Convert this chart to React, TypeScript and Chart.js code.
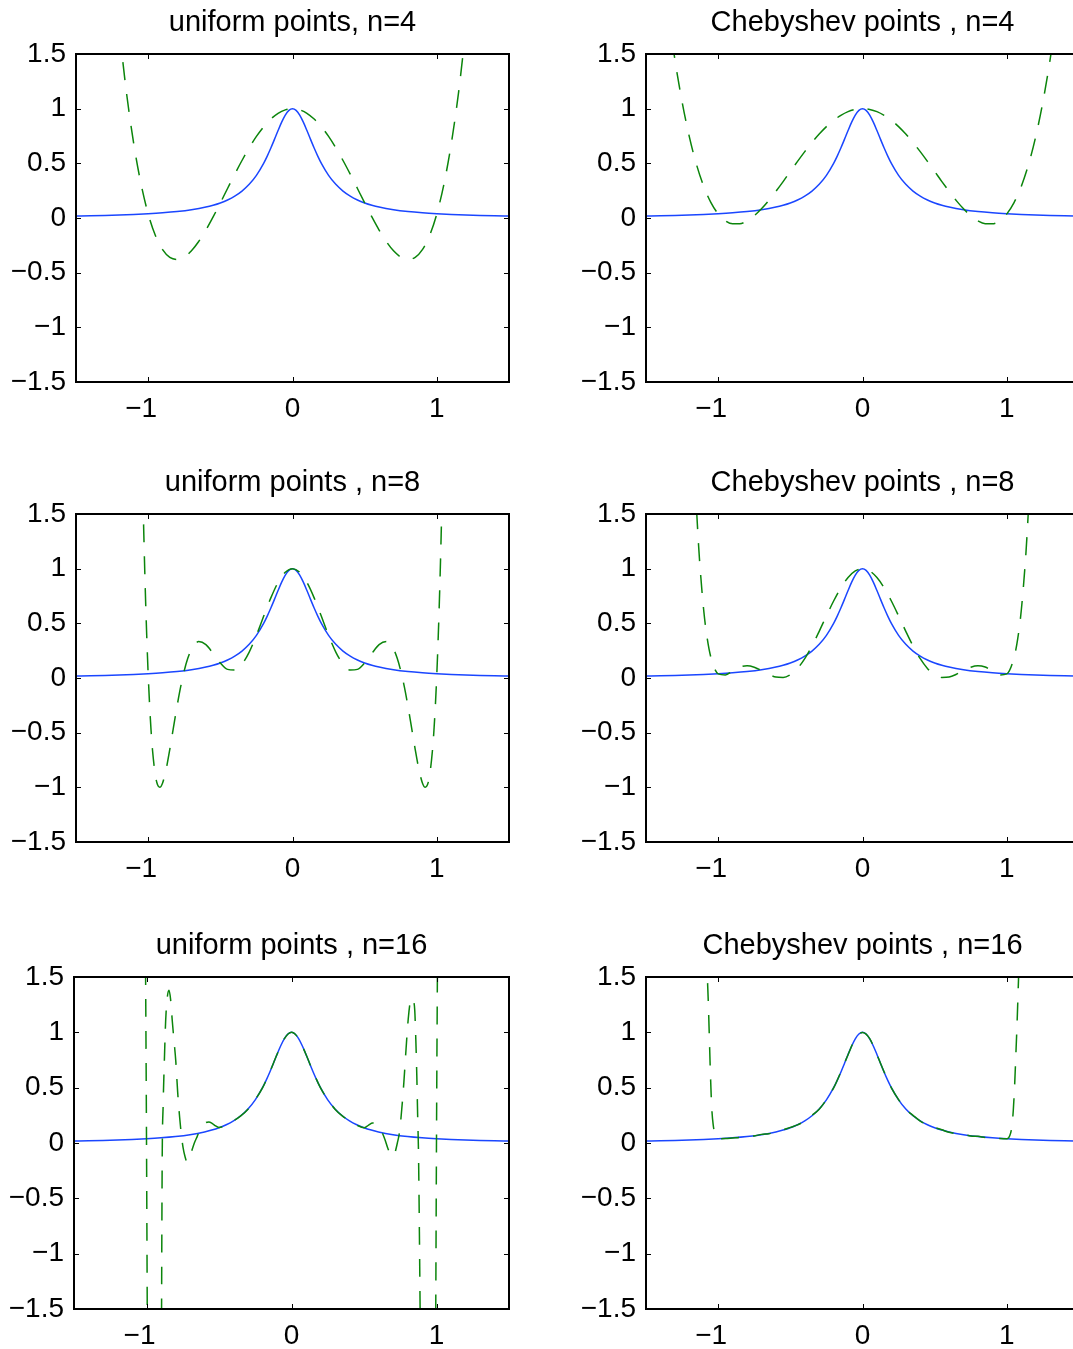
import React, { useEffect, useRef } from "react";
import { Chart, registerables } from "chart.js";

Chart.register(...registerables);

const FONT = '"Liberation Sans", Helvetica, Arial, sans-serif';

const X_TICKS = [-1, 0, 1];
const Y_TICKS = [-1.5, -1, -0.5, 0, 0.5, 1, 1.5];

// Solid blue curve (same in all six panels)
const RUNGE_X = [-1.5, -1.4, -1.3, -1.2, -1.1, -1.0, -0.9, -0.8, -0.7, -0.6, -0.55, -0.5, -0.45, -0.4, -0.35, -0.3, -0.25, -0.2, -0.175, -0.15, -0.125, -0.1, -0.075, -0.05, -0.025, 0, 0.025, 0.05, 0.075, 0.1, 0.125, 0.15, 0.175, 0.2, 0.25, 0.3, 0.35, 0.4, 0.45, 0.5, 0.55, 0.6, 0.7, 0.8, 0.9, 1.0, 1.1, 1.2, 1.3, 1.4, 1.5];
const RUNGE_Y = [0.0175, 0.02, 0.0231, 0.027, 0.032, 0.0385, 0.0471, 0.0588, 0.0755, 0.1, 0.1168, 0.1379, 0.1649, 0.2, 0.2462, 0.3077, 0.3902, 0.5, 0.5664, 0.64, 0.7191, 0.8, 0.8767, 0.9412, 0.9846, 1, 0.9846, 0.9412, 0.8767, 0.8, 0.7191, 0.64, 0.5664, 0.5, 0.3902, 0.3077, 0.2462, 0.2, 0.1649, 0.1379, 0.1168, 0.1, 0.0755, 0.0588, 0.0471, 0.0385, 0.032, 0.027, 0.0231, 0.02, 0.0175];

// Dashed green curves
const UNI4_X = [-1.2, -1.15, -1.1, -1.05, -1.0, -0.95, -0.9, -0.85, -0.8, -0.75, -0.7, -0.65, -0.6, -0.55, -0.5, -0.45, -0.4, -0.35, -0.3, -0.25, -0.2, -0.15, -0.1, -0.05, 0, 0.05, 0.1, 0.15, 0.2, 0.25, 0.3, 0.35, 0.4, 0.45, 0.5, 0.55, 0.6, 0.65, 0.7, 0.75, 0.8, 0.85, 0.9, 0.95, 1.0, 1.05, 1.1, 1.15, 1.2];
const UNI4_Y = [1.716, 1.143, 0.679, 0.315, 0.038, -0.16, -0.289, -0.36, -0.379, -0.357, -0.3, -0.215, -0.11, 0.01, 0.138, 0.27, 0.401, 0.526, 0.642, 0.746, 0.834, 0.905, 0.958, 0.989, 1, 0.989, 0.958, 0.905, 0.834, 0.746, 0.642, 0.526, 0.401, 0.27, 0.138, 0.01, -0.11, -0.215, -0.3, -0.357, -0.379, -0.36, -0.289, -0.16, 0.038, 0.315, 0.679, 1.143, 1.716];

const CHEB4_X = [-1.35, -1.3, -1.25, -1.2, -1.15, -1.1, -1.05, -1.0, -0.95, -0.9, -0.85, -0.8, -0.75, -0.7, -0.65, -0.6, -0.55, -0.5, -0.45, -0.4, -0.35, -0.3, -0.25, -0.2, -0.15, -0.1, -0.05, 0, 0.05, 0.1, 0.15, 0.2, 0.25, 0.3, 0.35, 0.4, 0.45, 0.5, 0.55, 0.6, 0.65, 0.7, 0.75, 0.8, 0.85, 0.9, 0.95, 1.0, 1.05, 1.1, 1.15, 1.2, 1.25, 1.3, 1.35];
const CHEB4_Y = [1.917, 1.451, 1.063, 0.744, 0.488, 0.289, 0.141, 0.038, -0.025, -0.053, -0.052, -0.026, 0.021, 0.084, 0.159, 0.244, 0.333, 0.426, 0.518, 0.607, 0.691, 0.768, 0.836, 0.893, 0.939, 0.973, 0.993, 1, 0.993, 0.973, 0.939, 0.893, 0.836, 0.768, 0.691, 0.607, 0.518, 0.426, 0.333, 0.244, 0.159, 0.084, 0.021, -0.026, -0.052, -0.053, -0.025, 0.038, 0.141, 0.289, 0.488, 0.744, 1.063, 1.451, 1.917];

const UNI8_X = [-1.05, -1.04, -1.03, -1.02, -1.01, -1.0, -0.99, -0.98, -0.97, -0.95, -0.935, -0.92, -0.9, -0.875, -0.85, -0.825, -0.8, -0.775, -0.75, -0.725, -0.7, -0.65, -0.6, -0.55, -0.5, -0.45, -0.4, -0.35, -0.3, -0.25, -0.2, -0.15, -0.1, -0.05, 0, 0.05, 0.1, 0.15, 0.2, 0.25, 0.3, 0.35, 0.4, 0.45, 0.5, 0.55, 0.6, 0.65, 0.7, 0.725, 0.75, 0.775, 0.8, 0.825, 0.85, 0.875, 0.9, 0.92, 0.935, 0.95, 0.97, 0.98, 0.99, 1.0, 1.01, 1.02, 1.03, 1.04, 1.05];
const UNI8_Y = [2.578, 1.894, 1.308, 0.809, 0.388, 0.038, -0.248, -0.478, -0.658, -0.892, -0.976, -1.0, -0.96, -0.831, -0.652, -0.454, -0.259, -0.082, 0.066, 0.182, 0.264, 0.333, 0.305, 0.225, 0.138, 0.079, 0.073, 0.127, 0.237, 0.39, 0.564, 0.733, 0.874, 0.967, 1, 0.967, 0.874, 0.733, 0.564, 0.39, 0.237, 0.127, 0.073, 0.079, 0.138, 0.225, 0.305, 0.333, 0.264, 0.182, 0.066, -0.082, -0.259, -0.454, -0.652, -0.831, -0.96, -1.0, -0.976, -0.892, -0.658, -0.478, -0.248, 0.038, 0.388, 0.809, 1.308, 1.894, 2.578];

const CHEB8_X = [-1.16, -1.15, -1.14, -1.13, -1.1, -1.075, -1.05, -1.0, -0.95, -0.9, -0.85, -0.8, -0.75, -0.7, -0.65, -0.6, -0.55, -0.5, -0.45, -0.4, -0.35, -0.3, -0.25, -0.2, -0.15, -0.1, -0.05, 0, 0.05, 0.1, 0.15, 0.2, 0.25, 0.3, 0.35, 0.4, 0.45, 0.5, 0.55, 0.6, 0.65, 0.7, 0.75, 0.8, 0.85, 0.9, 0.95, 1.0, 1.05, 1.075, 1.1, 1.13, 1.14, 1.15, 1.16];
const CHEB8_Y = [1.819, 1.547, 1.308, 1.097, 0.617, 0.355, 0.187, 0.038, 0.028, 0.064, 0.1, 0.112, 0.099, 0.069, 0.034, 0.009, 0.005, 0.03, 0.088, 0.177, 0.293, 0.427, 0.568, 0.704, 0.825, 0.919, 0.979, 1, 0.979, 0.919, 0.825, 0.704, 0.568, 0.427, 0.293, 0.177, 0.088, 0.03, 0.005, 0.009, 0.034, 0.069, 0.099, 0.112, 0.1, 0.064, 0.028, 0.038, 0.187, 0.355, 0.617, 1.097, 1.308, 1.547, 1.819];

const UNI16_X = [-1.03, -1.015, -1.0, -0.99, -0.97, -0.95, -0.93, -0.91, -0.9, -0.892, -0.885, -0.876, -0.868, -0.858, -0.845, -0.834, -0.822, -0.81, -0.798, -0.785, -0.772, -0.76, -0.748, -0.735, -0.72, -0.705, -0.69, -0.67, -0.65, -0.63, -0.61, -0.59, -0.57, -0.55, -0.53, -0.5, -0.45, -0.4, -0.35, -0.3, -0.25, -0.2, -0.15, -0.1, -0.05, 0, 0.05, 0.1, 0.15, 0.2, 0.25, 0.3, 0.35, 0.4, 0.45, 0.5, 0.53, 0.56, 0.58, 0.6, 0.625, 0.645, 0.665, 0.685, 0.7, 0.715, 0.73, 0.745, 0.76, 0.775, 0.79, 0.805, 0.818, 0.828, 0.84, 0.85, 0.857, 0.864, 0.87, 0.876, 0.882, 0.89, 0.91, 0.93, 0.95, 0.97, 0.99, 1.0, 1.015, 1.03];
const UNI16_Y = [12, 4, 0.04, -3, -9, -13, -12, -6, -3, -0.2, 0.35, 0.78, 1.1, 1.3, 1.38, 1.3, 1.1, 0.92, 0.74, 0.46, 0.24, 0.08, -0.04, -0.12, -0.17, -0.14, -0.08, 0.0, 0.06, 0.12, 0.16, 0.185, 0.19, 0.18, 0.16, 0.14, 0.162, 0.2, 0.245, 0.306, 0.392, 0.498, 0.641, 0.8, 0.941, 1, 0.941, 0.8, 0.641, 0.498, 0.392, 0.306, 0.245, 0.2, 0.162, 0.138, 0.16, 0.18, 0.175, 0.15, 0.095, 0.03, -0.05, -0.11, -0.12, -0.08, 0.0, 0.1, 0.3, 0.55, 0.85, 1.12, 1.27, 1.31, 1.29, 1.2, 0.95, 0.62, 0.25, -0.1, -0.8, -2.0, -6, -12, -13, -9, -3, 0.04, 4, 12];

const CHEB16_X = [-1.1, -1.085, -1.075, -1.068, -1.061, -1.054, -1.045, -1.035, -1.02, -1.0, -0.95, -0.9, -0.85, -0.8, -0.75, -0.7, -0.65, -0.6, -0.55, -0.5, -0.45, -0.4, -0.35, -0.3, -0.25, -0.2, -0.15, -0.1, -0.05, 0, 0.05, 0.1, 0.15, 0.2, 0.25, 0.3, 0.35, 0.4, 0.45, 0.5, 0.55, 0.6, 0.65, 0.7, 0.75, 0.8, 0.85, 0.9, 0.95, 1.0, 1.02, 1.035, 1.045, 1.055, 1.062, 1.07, 1.078, 1.09, 1.1];
const CHEB16_Y = [2.6, 1.8, 1.5, 1.26, 0.95, 0.64, 0.33, 0.17, 0.075, 0.038, 0.04, 0.045, 0.05, 0.06, 0.064, 0.078, 0.084, 0.097, 0.119, 0.141, 0.164, 0.198, 0.25, 0.305, 0.392, 0.498, 0.642, 0.798, 0.943, 0.998, 0.943, 0.798, 0.642, 0.498, 0.392, 0.305, 0.25, 0.198, 0.164, 0.141, 0.119, 0.097, 0.084, 0.078, 0.064, 0.06, 0.05, 0.045, 0.04, 0.038, 0.065, 0.15, 0.3, 0.55, 0.78, 1.05, 1.36, 1.9, 2.6];

const TITLES = [
  "uniform points, n=4",
  "Chebyshev points , n=4",
  "uniform points , n=8",
  "Chebyshev points , n=8",
  "uniform points , n=16",
  "Chebyshev points , n=16",
];

type Panel = {
  title: string;
  px: number[];
  py: number[];
  colLeft: number;
  left: number;
  right: number;
  top: number;
  bottom: number;
};

const CANVAS_W = 530;
const TITLE_BLOCK = 54;
const XAXIS_H = 50;
const TITLE_SIZE = 29;
const TICK_SIZE = 28;

const PANELS: Panel[] = [
  { title: TITLES[0], px: UNI4_X, py: UNI4_Y, colLeft: 0, left: 76, right: 509, top: 54, bottom: 382 },
  { title: TITLES[1], px: CHEB4_X, py: CHEB4_Y, colLeft: 570, left: 646, right: 1079, top: 54, bottom: 382 },
  { title: TITLES[2], px: UNI8_X, py: UNI8_Y, colLeft: 0, left: 76, right: 509, top: 514, bottom: 842 },
  { title: TITLES[3], px: CHEB8_X, py: CHEB8_Y, colLeft: 570, left: 646, right: 1079, top: 514, bottom: 842 },
  { title: TITLES[4], px: UNI16_X, py: UNI16_Y, colLeft: 0, left: 74, right: 509, top: 977, bottom: 1309 },
  { title: TITLES[5], px: CHEB16_X, py: CHEB16_Y, colLeft: 570, left: 646, right: 1079, top: 977, bottom: 1309 },
];

const fmtTick = (v: number) => (v < 0 ? "\u2212" + String(Math.abs(v)) : String(v));

const framePlugin = {
  id: "matlabFrame",
  afterDatasetsDraw(chart: any) {
    const { ctx, chartArea: a, scales } = chart;
    const len = 5;
    ctx.save();
    ctx.strokeStyle = "#000";
    ctx.lineWidth = 1;
    ctx.beginPath();
    for (const v of X_TICKS) {
      const p = Math.round(scales.x.getPixelForValue(v)) + 0.5;
      ctx.moveTo(p, a.bottom);
      ctx.lineTo(p, a.bottom - len);
      ctx.moveTo(p, a.top);
      ctx.lineTo(p, a.top + len);
    }
    for (const v of Y_TICKS) {
      const p = Math.round(scales.y.getPixelForValue(v)) + 0.5;
      ctx.moveTo(a.left, p);
      ctx.lineTo(a.left + len, p);
      ctx.moveTo(a.right, p);
      ctx.lineTo(a.right - len, p);
    }
    ctx.stroke();
    ctx.lineWidth = 2;
    ctx.strokeRect(a.left, a.top, a.right - a.left, a.bottom - a.top);
    ctx.restore();
  },
};

function PlotPanel({ panel }: { panel: Panel }) {
  const ref = useRef<HTMLCanvasElement>(null);
  const plotH = panel.bottom - panel.top;
  const canvasH = TITLE_BLOCK + plotH + XAXIS_H;
  const canvasTop = panel.top - TITLE_BLOCK;
  const yAxisW = panel.left - panel.colLeft;
  const padRight = CANVAS_W - (panel.right - panel.colLeft);

  useEffect(() => {
    if (!ref.current) return;
    const titleFont = { family: FONT, size: TITLE_SIZE, weight: "normal" as const, lineHeight: 1.2 };
    const tickFont = { family: FONT, size: TICK_SIZE, weight: "normal" as const, lineHeight: 1.2 };
    const titleLH = TITLE_SIZE * 1.2;
    const titlePadTop = 22.5 - titleLH / 2;
    const titlePadBottom = TITLE_BLOCK - titleLH - titlePadTop;
    const chart = new Chart(ref.current, {
      type: "line",
      data: {
        datasets: [
          {
            data: panel.px.map((x, i) => ({ x, y: panel.py[i] })),
            borderColor: "#0b850b",
            borderWidth: 1.5,
            borderDash: [18, 14],
            pointRadius: 0,
            fill: false,
            cubicInterpolationMode: "monotone",
            order: 0,
          },
          {
            data: RUNGE_X.map((x, i) => ({ x, y: RUNGE_Y[i] })),
            borderColor: "#1a46ff",
            borderWidth: 1.5,
            pointRadius: 0,
            fill: false,
            cubicInterpolationMode: "monotone",
            order: 1,
          },
        ],
      },
      options: {
        animation: false,
        responsive: false,
        devicePixelRatio: 1,
        events: [],
        layout: { padding: { left: 0, right: padRight, top: 0, bottom: 0 } },
        plugins: {
          legend: { display: false },
          tooltip: { enabled: false },
          title: {
            display: true,
            text: panel.title,
            color: "#000",
            fullSize: false,
            font: titleFont,
            padding: { top: titlePadTop, bottom: titlePadBottom },
          },
        },
        scales: {
          x: {
            type: "linear",
            min: -1.5,
            max: 1.5,
            afterBuildTicks: (s: any) => {
              s.ticks = X_TICKS.map((v) => ({ value: v }));
            },
            afterFit: (s: any) => {
              s.height = XAXIS_H;
            },
            ticks: {
              color: "#000",
              font: tickFont,
              padding: 10,
              autoSkip: false,
              maxRotation: 0,
              minRotation: 0,
              callback: (v: any) => (Number(v) < 0 ? fmtTick(Number(v)) + "\u2002" : fmtTick(Number(v))),
            },
            grid: { display: false, drawTicks: false },
            border: { display: false },
          },
          y: {
            type: "linear",
            min: -1.5,
            max: 1.5,
            afterBuildTicks: (s: any) => {
              s.ticks = Y_TICKS.map((v) => ({ value: v }));
            },
            afterFit: (s: any) => {
              s.width = yAxisW;
            },
            ticks: {
              color: "#000",
              font: tickFont,
              padding: 10,
              autoSkip: false,
              callback: (v: any) => fmtTick(Number(v)),
            },
            grid: { display: false, drawTicks: false },
            border: { display: false },
          },
        },
      } as any,
      plugins: [framePlugin],
    });
    return () => chart.destroy();
  }, []);

  return (
    <canvas
      ref={ref}
      width={CANVAS_W}
      height={canvasH}
      style={{
        position: "absolute",
        left: panel.colLeft,
        top: canvasTop,
        width: CANVAS_W,
        height: canvasH,
      }}
    />
  );
}

export default function App() {
  return (
    <div
      style={{
        position: "fixed",
        left: 0,
        top: 0,
        width: 1073,
        height: 1349,
        overflow: "hidden",
        background: "#fff",
      }}
    >
      {PANELS.map((p, i) => (
        <PlotPanel key={i} panel={p} />
      ))}
    </div>
  );
}
